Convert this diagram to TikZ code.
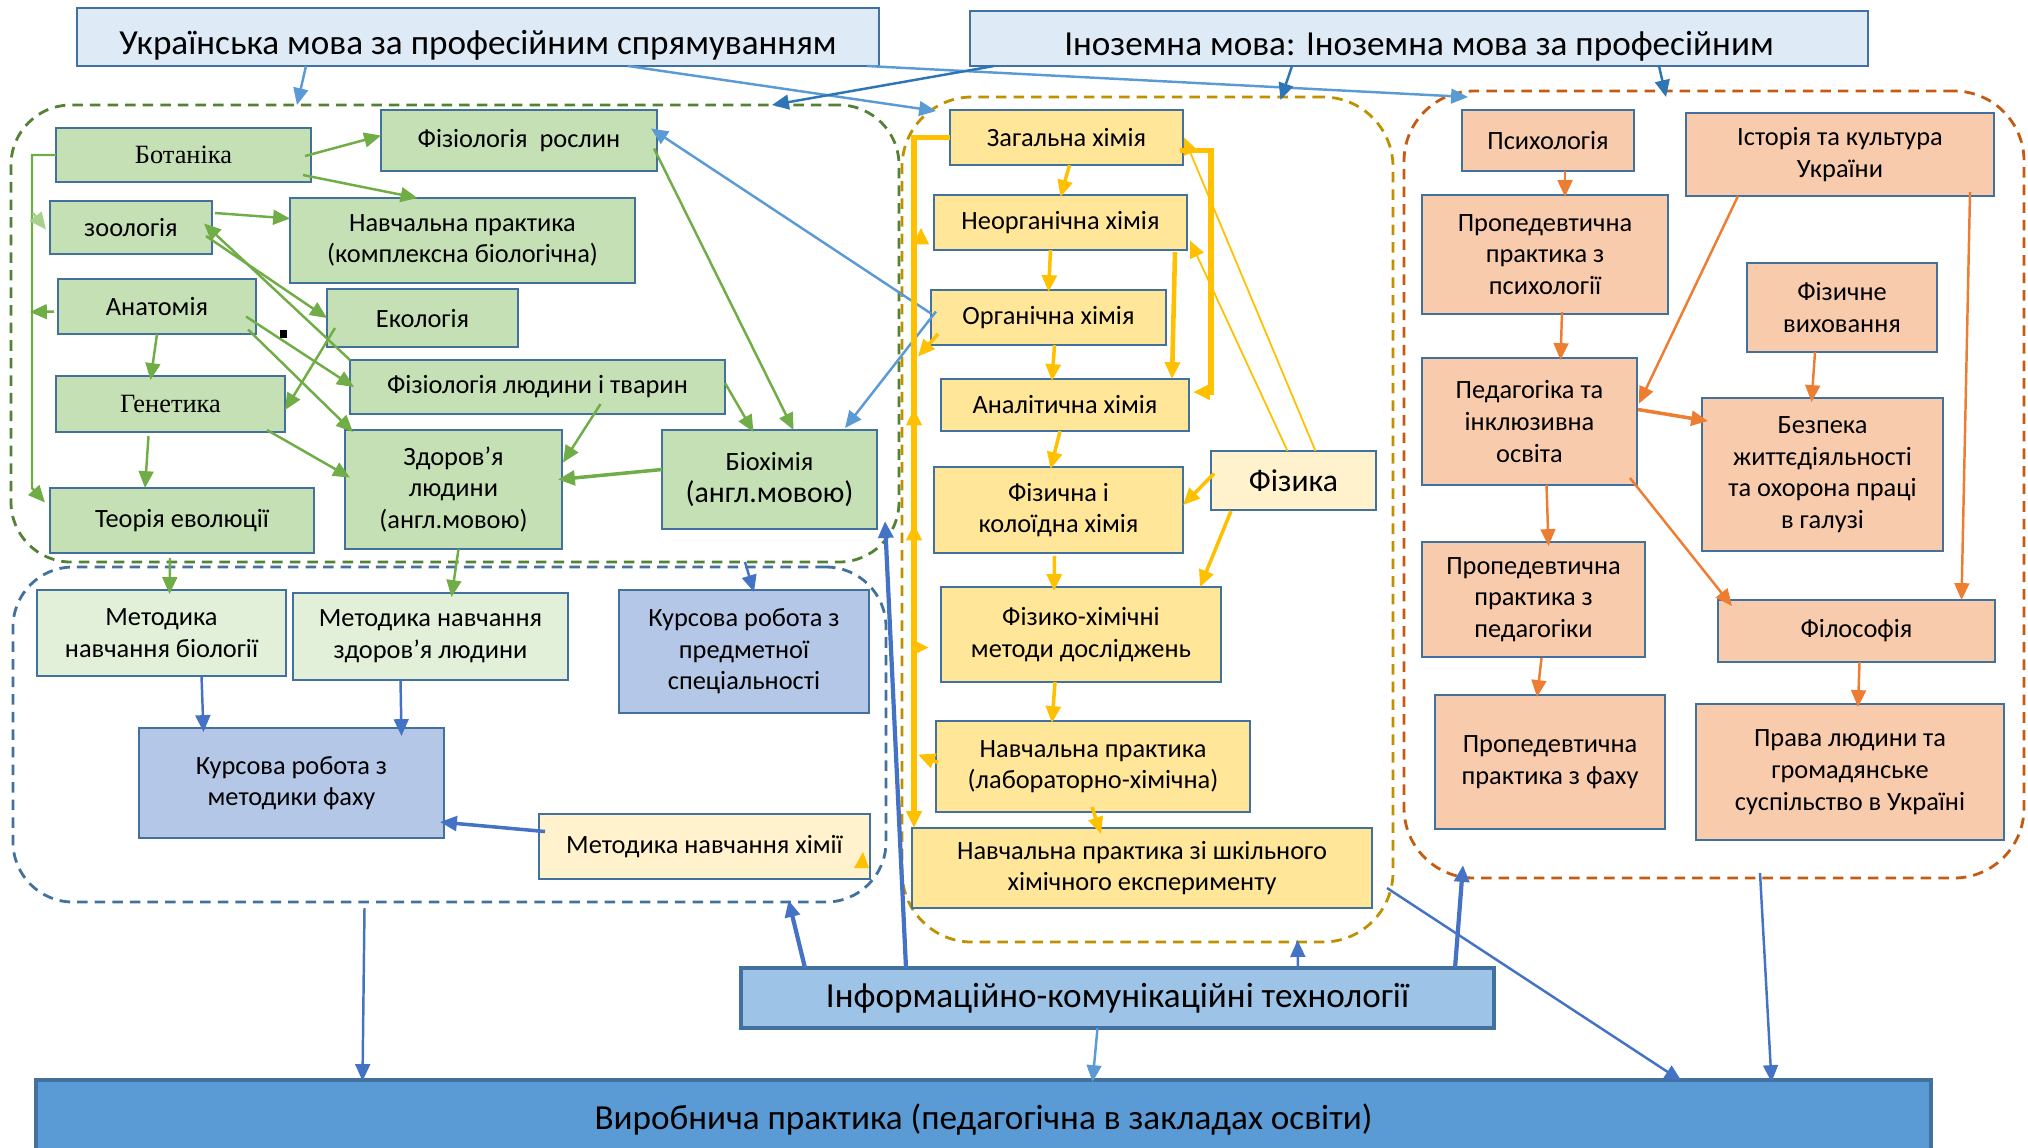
\documentclass[tikz,border=0pt]{standalone}
\usepackage{fontspec}
\setmainfont{Carlito}
\newfontfamily\tnr{Liberation Serif}
\usetikzlibrary{arrows.meta,calc}

\definecolor{bord}{HTML}{41719C}
\definecolor{hfill}{HTML}{DEEBF7}
\definecolor{gfill}{HTML}{C5E0B4}
\definecolor{lgfill}{HTML}{E2F0D9}
\definecolor{bfill}{HTML}{B4C7E7}
\definecolor{cfill}{HTML}{FFE699}
\definecolor{lcfill}{HTML}{FFF2CC}
\definecolor{ofill}{HTML}{F8CBAD}
\definecolor{iktfill}{HTML}{9DC3E6}
\definecolor{vyrfill}{HTML}{5B9BD5}
\definecolor{gdash}{HTML}{548235}
\definecolor{bdash}{HTML}{41719C}
\definecolor{cdash}{HTML}{BF9000}
\definecolor{odash}{HTML}{C55A11}
\definecolor{agreen}{HTML}{70AD47}
\definecolor{apale}{HTML}{A9D18E}
\definecolor{ayel}{HTML}{FFC000}
\definecolor{aor}{HTML}{ED7D31}
\definecolor{ablue}{HTML}{4472C4}
\definecolor{alblue}{HTML}{5B9BD5}
\definecolor{adblue}{HTML}{2E75B6}

\tikzset{
  sz/.style 2 args={minimum width=#1*0.01cm, minimum height=#2*0.01cm},
  box/.style={draw=bord, line width=0.8pt, inner sep=1pt, outer sep=0pt, align=center,
              font=\fontsize{7.5}{9}\selectfont},
  hbox/.style={box, fill=hfill, font=\fontsize{10}{12}\selectfont, text height=0.34cm, text depth=0cm},
  gbox/.style={box, fill=gfill},
  lgbox/.style={box, fill=lgfill},
  bbox/.style={box, fill=bfill},
  cbox/.style={box, fill=cfill},
  lcbox/.style={box, fill=lcfill},
  obox/.style={box, fill=ofill},
  cont/.style={line width=0.8pt, rounded corners=0.6cm, inner sep=0pt, outer sep=0pt,
               dash pattern=on 3pt off 2pt},
  arr/.style={-{Triangle[length=4.8pt,width=4.2pt]}, line width=0.7pt},
  garr/.style={arr, draw=agreen},
  parr/.style={arr, draw=apale},
  yarr/.style={arr, draw=ayel},
  thinyarr/.style={yarr, line width=0.5pt},
  oarr/.style={arr, draw=aor},
  barr/.style={arr, draw=ablue},
  lbarr/.style={arr, draw=alblue},
  dbarr/.style={arr, draw=adblue},
}

\begin{document}
\begin{tikzpicture}[x=0.01cm, y=-0.01cm]
  \useasboundingbox (0,0) rectangle (2028,1147);

% dashed groups
  \node[cont, draw=gdash, sz={888}{457}] (gcont) at (455,333.5) {};
  \node[cont, draw=bdash, sz={873}{335}] (bcont) at (449.5,734.5) {};
  \node[cont, draw=cdash, sz={491}{845}, rounded corners=0.7cm] (ccont) at (1147.5,519.5) {};
  \node[cont, draw=odash, sz={620}{787}, rounded corners=0.7cm] (ocont) at (1714,484.5) {};

% headers
  \node[hbox, sz={802}{58}] (ukr) at (478,37) {Українська мова за професійним спрямуванням};
  \node[hbox, sz={898}{55}] (inoz) at (1419,38.5) {Іноземна мова: Іноземна мова за професійним};

% biology
  \node[gbox, sz={255}{54}] (bot) at (183.5,155) {\tnr Ботаніка};
  \node[gbox, sz={276}{61}] (fizr) at (519,140.5) {Фізіологія \ рослин};
  \node[gbox, sz={162}{53}] (zool) at (131,227.5) {зоологія};
  \node[gbox, sz={345}{85}] (npkb) at (462.5,240.5) {Навчальна практика\\(комплексна біологічна)};
  \node[gbox, sz={198}{55}] (anat) at (157,306.5) {Анатомія};
  \node[gbox, sz={191}{58}] (ekol) at (422.5,318) {Екологія};
  \node[gbox, sz={375}{54}] (fizl) at (537.5,387) {Фізіологія людини і тварин};
  \node[gbox, sz={229}{56}] (gen) at (170.5,404) {\tnr Генетика};
  \node[gbox, sz={217}{119}] (zdor) at (453.5,489.5) {Здоров’я\\людини\\(англ.мовою)};
  \node[gbox, sz={215}{99}] (bioch) at (769.5,479.5) {Біохімія\\{\fontsize{8.5}{10}\selectfont(англ.мовою)}};
  \node[gbox, sz={264}{65}] (teor) at (182,520.5) {Теорія еволюції};

% methods
  \node[lgbox, sz={249}{86}] (mbio) at (161.5,633) {Методика\\навчання біології};
  \node[lgbox, sz={275}{87}] (mzdor) at (430.5,636.5) {Методика навчання\\здоров’я людини};
  \node[bbox, sz={250}{123}] (kps) at (744,651.5) {Курсова робота з\\предметної\\спеціальності};
  \node[bbox, sz={305}{110}] (kmf) at (291.5,783) {Курсова робота з\\методики фаху};
  \node[lcbox, sz={331}{65}] (mchem) at (704.5,846.5) {Методика навчання хімії};

% chemistry
  \node[cbox, sz={233}{55}] (zag) at (1066.5,137.5) {Загальна хімія};
  \node[cbox, sz={253}{55}] (neorg) at (1060.5,222.5) {Неорганічна хімія};
  \node[cbox, sz={235}{55}] (org) at (1048.5,317.5) {Органічна хімія};
  \node[cbox, sz={248}{52}] (anal) at (1065,405) {Аналітична хімія};
  \node[cbox, sz={249}{86}] (fk) at (1058.5,510) {Фізична і\\колоїдна хімія};
  \node[lcbox, sz={165}{59}, font=\fontsize{9}{10}\selectfont] (fiz) at (1293.5,480.5) {Фізика};
  \node[cbox, sz={280}{95}] (fhm) at (1081,634.5) {Фізико-хімічні\\методи досліджень};
  \node[cbox, sz={314}{91}] (nplab) at (1093,766.5) {Навчальна практика\\(лабораторно-хімічна)};
  \node[cbox, sz={460}{80}] (npsch) at (1142,868) {Навчальна практика зі шкільного\\хімічного експерименту};

% humanities
  \node[obox, sz={172}{61}] (psy) at (1548,140.5) {Психологія};
  \node[obox, sz={308}{83}] (hist) at (1840,154.5) {Історія та культура\\України};
  \node[obox, sz={246}{119}] (ppsy) at (1545,254.5) {Пропедевтична\\практика з\\психології};
  \node[obox, sz={190}{89}] (fv) at (1842,307.5) {Фізичне\\виховання};
  \node[obox, sz={215}{127}] (ped) at (1529.5,421.5) {Педагогіка та\\інклюзивна\\освіта};
  \node[obox, sz={241}{153}] (bzh) at (1822.5,474.5) {Безпека\\життєдіяльності\\та охорона праці\\в галузі};
  \node[obox, sz={223}{115}] (pped) at (1533.5,599.5) {Пропедевтична\\практика з\\педагогіки};
  \node[obox, sz={277}{62}] (fil) at (1856.5,631) {Філософія};
  \node[obox, sz={230}{134}] (pfah) at (1550,762) {Пропедевтична\\практика з фаху};
  \node[obox, sz={308}{136}] (prava) at (1850,772) {Права людини та\\громадянське\\суспільство в Україні};

% bottom
  \node[box, fill=iktfill, line width=1.2pt, sz={753}{60}, font=\fontsize{10}{12}\selectfont] (ikt) at (1117.5,998) {Інформаційно-комунікаційні технології};
  \node[box, fill=vyrfill, line width=1.2pt, sz={1895}{78}, font=\fontsize{10}{12}\selectfont] (vyr) at (983.5,1119) {Виробнича практика (педагогічна в закладах освіти)};

% from the language headers
  \draw[lbarr] ($(ukr.south)+(-172,0)$) -- ($(gcont.north)+(-158,0)$);
  \draw[lbarr] ($(ukr.south)+(150,0)$) -- ($(zag.north west)+(-14,1)$);
  \draw[lbarr] ($(ukr.south east)+(-12,0)$) -- ($(ocont.north)+(-246,6)$);
  \draw[dbarr] ($(inoz.south west)+(24,0)$) -- ($(gcont.north east)+(-127,0)$);
  \draw[dbarr] ($(inoz.south)+(-127,0)$) -- ($(ccont.north)+(133,3)$);
  \draw[dbarr] ($(inoz.south)+(240,0)$) -- ($(ocont.north)+(-48,6)$);

% biology links
  \coordinate (gl) at ($(bot.west)+(-24,0)$);   % left rail
  \draw[garr] (bot.west) -- (gl) -- ($(gl)+(0,333)$) -- ($(teor.west)+(-5,-18)$);
  \draw[parr] ($(gl)+(1,58)$) -- ($(zool.west)+(-4,2)$);
  \draw[garr] ($(anat.west)+(-4,5)$) -- ($(gl)+(-2,157)$);
  \draw[garr] ($(bot.east)+(-6,1)$) -- ($(fizr.west)+(0,-5)$);
  \draw[garr] ($(bot.south east)+(-8,-7)$) -- ($(npkb.north)+(-45,0)$);
  \draw[garr] ($(zool.north east)+(3,12)$) -- ($(npkb.west)+(0,-22)$);
  \draw[garr] (fizl.north west) -- ($(zool.east)+(-8,-4)$);
  \draw[garr] ($(zool.south east)+(-6,-18)$) -- (ekol.west);
  \draw[garr] ($(ekol.west)+(8,10)$) -- ($(gen.east)+(0,6)$);
  \draw[garr] ($(anat.east)+(-10,10)$) -- ($(fizl.west)+(4,0)$);
  \draw[garr] ($(anat.east)+(-8,23)$) -- ($(zdor.north west)+(8,2)$);
  \fill ($(anat.east)+(24,23)$) rectangle ++(7,8);
  \draw[garr] (anat.south) -- ($(gen.north)+(-20,4)$);
  \draw[garr] ($(gen.south)+(-22,4)$) -- ($(teor.north)+(-37,0)$);
  \draw[garr] ($(gen.south east)+(-18,-2)$) -- ($(zdor.west)+(5,-12)$);
  \draw[garr] ($(fizl.south)+(63,-10)$) -- ($(zdor.east)+(1,-27)$);
  \draw[garr] ($(fizl.east)+(0,-4)$) -- ($(bioch.north)+(-16,2)$);
  \draw[garr] ($(fizr.east)+(-3,8)$) -- ($(bioch.north)+(24,0)$);
  \draw[garr, line width=1pt] ($(bioch.west)+(0,-10)$) -- ($(zdor.east)+(-4,-10)$);
  \draw[garr] ($(teor.south)+(-12,5)$) -- ($(mbio.north)+(8,4)$);
  \draw[garr] ($(zdor.south)+(5,0)$) -- ($(mzdor.north)+(21,4)$);
  \draw[lbarr] ($(org.west)+(0,-4)$) -- ($(fizr.east)+(-6,-12)$);
  \draw[lbarr] ($(org.west)+(5,-6)$) -- ($(bioch.north east)+(-32,-2)$);

% methods and course works
  \draw[barr] ($(gcont.south)+(290,0)$) -- ($(kps.north)+(10,2)$);
  \draw[barr] ($(mbio.south)+(40,0)$) -- ($(kmf.north)+(-88,4)$);
  \draw[barr] ($(mzdor.south)+(-30,0)$) -- ($(kmf.north)+(110,8)$);
  \draw[barr, line width=1pt] ($(mchem.west)+(6,-15)$) -- ($(kmf.east)+(-4,39)$);
  \fill[ayel] ($(mchem.south east)+(-16,-11)$) -- ++(15,0) -- ++(-6,-16) -- cycle;

% chemistry chain
  \draw[yarr, line width=1pt] ($(zag.south)+(3,0)$) -- ($(neorg.north)+(0,2)$);
  \draw[yarr, line width=1pt] ($(neorg.south)+(-10,0)$) -- ($(org.north)+(0,2)$);
  \draw[yarr, line width=1pt] ($(org.south)+(6,0)$) -- ($(anal.north)+(-13,2)$);
  \draw[yarr, line width=1pt] ($(anal.south)+(-5,0)$) -- ($(fk.north)+(-8,2)$);
  \draw[yarr, line width=1pt] ($(fk.south)+(-4,3)$) -- ($(fhm.north)+(-27,4)$);
  \draw[yarr, line width=1pt] ($(fhm.south)+(-26,0)$) -- ($(nplab.north)+(-41,2)$);
  \draw[yarr, line width=1pt] ($(nplab.south)+(-1,-5)$) -- ($(npsch.north)+(-41,6)$);
  \draw[yarr, line width=1pt] ($(fiz.west)+(3,-7)$) -- ($(fk.east)+(0,-5)$);
  \draw[yarr, line width=1pt] ($(fiz.south west)+(20,1)$) -- ($(fhm.north east)+(-21,0)$);
  \draw[thinyarr] ($(fiz.north)+(-6,0)$) -- ($(neorg.east)+(3,18)$);
  \draw[thinyarr] ($(fiz.north)+(22,0)$) -- ($(zag.east)+(1,0)$);
  \draw[yarr, line width=1.5pt] ($(zag.east)+(-3,13)$) -- ++(31,0) |- ($(anal.east)+(4,-13)$);
  \draw[yarr, line width=1.3pt] ($(neorg.south east)+(-12,2)$) -- ($(anal.north east)+(-17,0)$);

% left rail of chemistry
  \coordinate (bar) at ($(zag.west)+(-36,0)$);
  \draw[yarr, line width=1.5pt] (zag.west) -- (bar) -- ($(npsch.north west)+(2,0)$);
  \draw[yarr, line width=1.5pt] ($(bar)+(7,106)$) -- ($(bar)+(7,90)$);
  \foreach \dy in {271,386}
    \draw[yarr, line width=1.5pt] ($(bar)+(0,\dy+16)$) -- ($(bar)+(0,\dy)$);
  \draw[yarr, line width=1.5pt] ($(bar)+(0,510)$) -- ($(bar)+(15,510)$);
  \draw[yarr, line width=1pt] ($(org.south west)+(7,-11)$) -- ($(bar)+(4,219)$);
  \draw[yarr, line width=1pt] ($(nplab.west)+(2,-4)$) -- ($(bar)+(4,617)$);

% humanities links
  \draw[oarr] ($(psy.south)+(17,0)$) -- ($(ppsy.north)+(20,2)$);
  \draw[oarr] ($(ppsy.south)+(17,-2)$) -- ($(ped.north)+(31,2)$);
  \draw[oarr] ($(hist.south west)+(52,0)$) -- ($(ped.east)+(2,-18)$);
  \draw[oarr, line width=1pt] ($(ped.east)+(1,-12)$) -- ($(bzh.north west)+(6,23)$);
  \draw[oarr] ($(fv.south)+(-27,0)$) -- ($(bzh.north)+(-11,4)$);
  \draw[oarr] ($(ped.south)+(17,0)$) -- ($(pped.north)+(15,4)$);
  \draw[oarr] ($(ped.south east)+(-7,-7)$) -- ($(fil.north west)+(14,6)$);
  \draw[oarr] ($(hist.south east)+(-24,-4)$) -- ($(fil.north)+(105,0)$);
  \draw[oarr] ($(pped.south)+(8,1)$) -- ($(pfah.north)+(-13,2)$);
  \draw[oarr] ($(fil.south)+(3,0)$) -- ($(prava.north)+(8,3)$);

% ICT and the practice
  \draw[barr] ($(bcont.south)+(-85,6)$) -- ($(vyr.north)+(-621,1)$);
  \draw[barr, line width=1.2pt] ($(ikt.north west)+(64,0)$) -- ($(bcont.south)+(339,-2)$);
  \draw[barr, line width=1.2pt] ($(ikt.north west)+(165,0)$) -- ($(bioch.south east)+(8,-8)$);
  \draw[barr] ($(ikt.north west)+(557,0)$) -- ($(ccont.south)+(150,-2)$);
  \draw[barr, line width=1.2pt] ($(ikt.north east)+(-39,0)$) -- ($(ocont.south)+(-251,-13)$);
  \draw[lbarr] ($(ikt.south)+(-20,0)$) -- ($(vyr.north)+(109,2)$);
  \draw[barr] ($(npsch.east)+(15,20)$) -- ($(vyr.north)+(698,1)$);
  \draw[barr] ($(ocont.south)+(46,-5)$) -- ($(vyr.north)+(788,2)$);
\end{tikzpicture}
\end{document}
